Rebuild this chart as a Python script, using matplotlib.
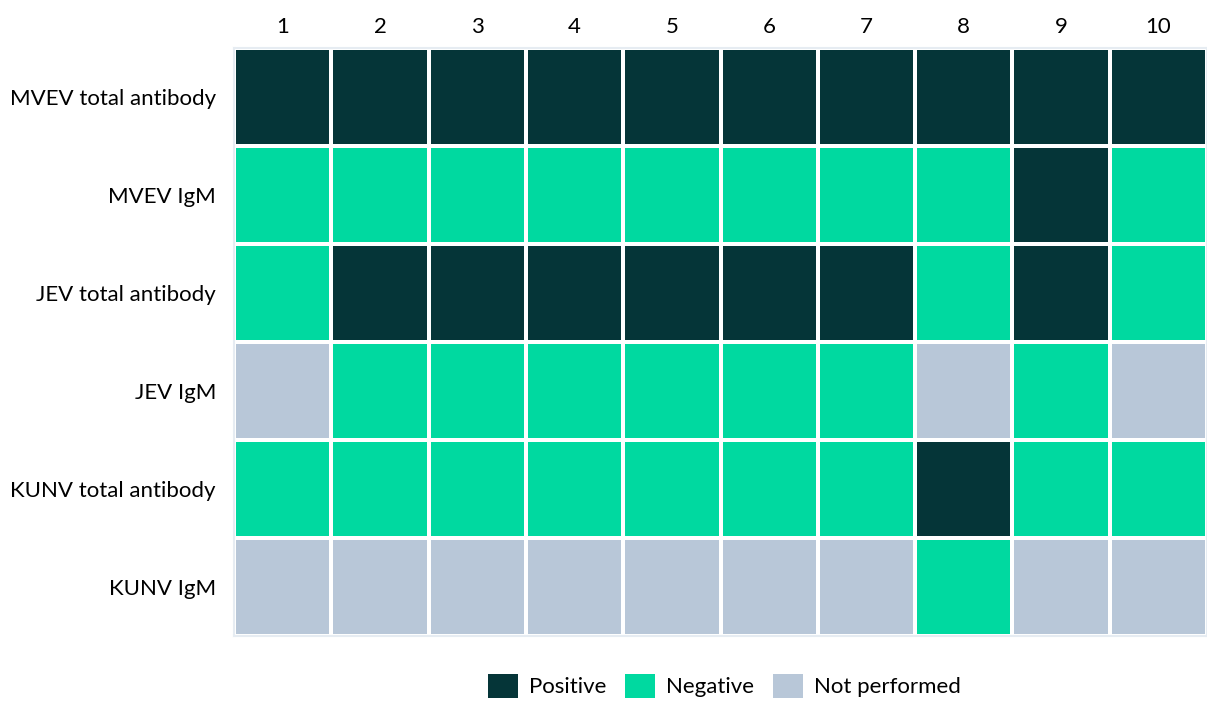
import numpy as np
import matplotlib.pyplot as plt
from matplotlib.colors import ListedColormap
from matplotlib.patches import Patch

# -----------------------------
# Data
# -----------------------------

tests = ["MVEV total antibody", "MVEV IgM", "JEV total antibody",
         "JEV IgM", "KUNV total antibody", "KUNV IgM"]
patients = ["1", "2", "3", "4", "5", "6", "7", "8", "9", "10"]

# P = positive, N = negative, X = not performed
results = [
    "PPPPPPPPPP",
    "NNNNNNNNPN",
    "NPPPPPPNPN",
    "XNNNNNNXNX",
    "NNNNNNNPNN",
    "XXXXXXXNXX",
]
status_names = ["Positive", "Negative", "Not performed"]
status_codes = {"P": 0, "N": 1, "X": 2}

COLORS = ["#053538", "#00d9a0", "#b8c7d8"]
FONT_SIZE = 16

plt.rcParams["font.family"] = ["Lato", "DejaVu Sans"]

grid = np.array([[status_codes[c] for c in row] for row in results])

fig = plt.figure(figsize=(12.07, 7.03), dpi=100)
ax = fig.add_axes([234 / 1207, 1 - 636 / 703, (1207 - 234) / 1207, (636 - 48) / 703])

ax.pcolormesh(grid, cmap=ListedColormap(COLORS), vmin=-0.5, vmax=2.5,
              edgecolors="white", linewidth=1.5)
ax.set_xlim(0, len(patients))
ax.set_ylim(len(tests), 0)

ax.set_xticks(np.arange(len(patients)) + 0.5)
ax.set_xticklabels(patients, fontsize=FONT_SIZE)
ax.set_yticks(np.arange(len(tests)) + 0.5)
ax.set_yticklabels(tests, fontsize=FONT_SIZE)
ax.xaxis.tick_top()
ax.tick_params(axis="x", length=0, pad=8)
ax.tick_params(axis="y", length=0, pad=13)
for spine in ax.spines.values():
    spine.set_color("#e6ecf2")
    spine.set_linewidth(1.5)

handles = [Patch(facecolor=c, edgecolor="none") for c in COLORS]
fig.legend(handles, status_names, loc="lower center", ncol=3, frameon=False,
           fontsize=FONT_SIZE, handlelength=1.35, handleheight=1.35, handletextpad=0.5,
           columnspacing=0.85, bbox_to_anchor=(0.6, -0.022))

fig.savefig("out.png", dpi=100)
